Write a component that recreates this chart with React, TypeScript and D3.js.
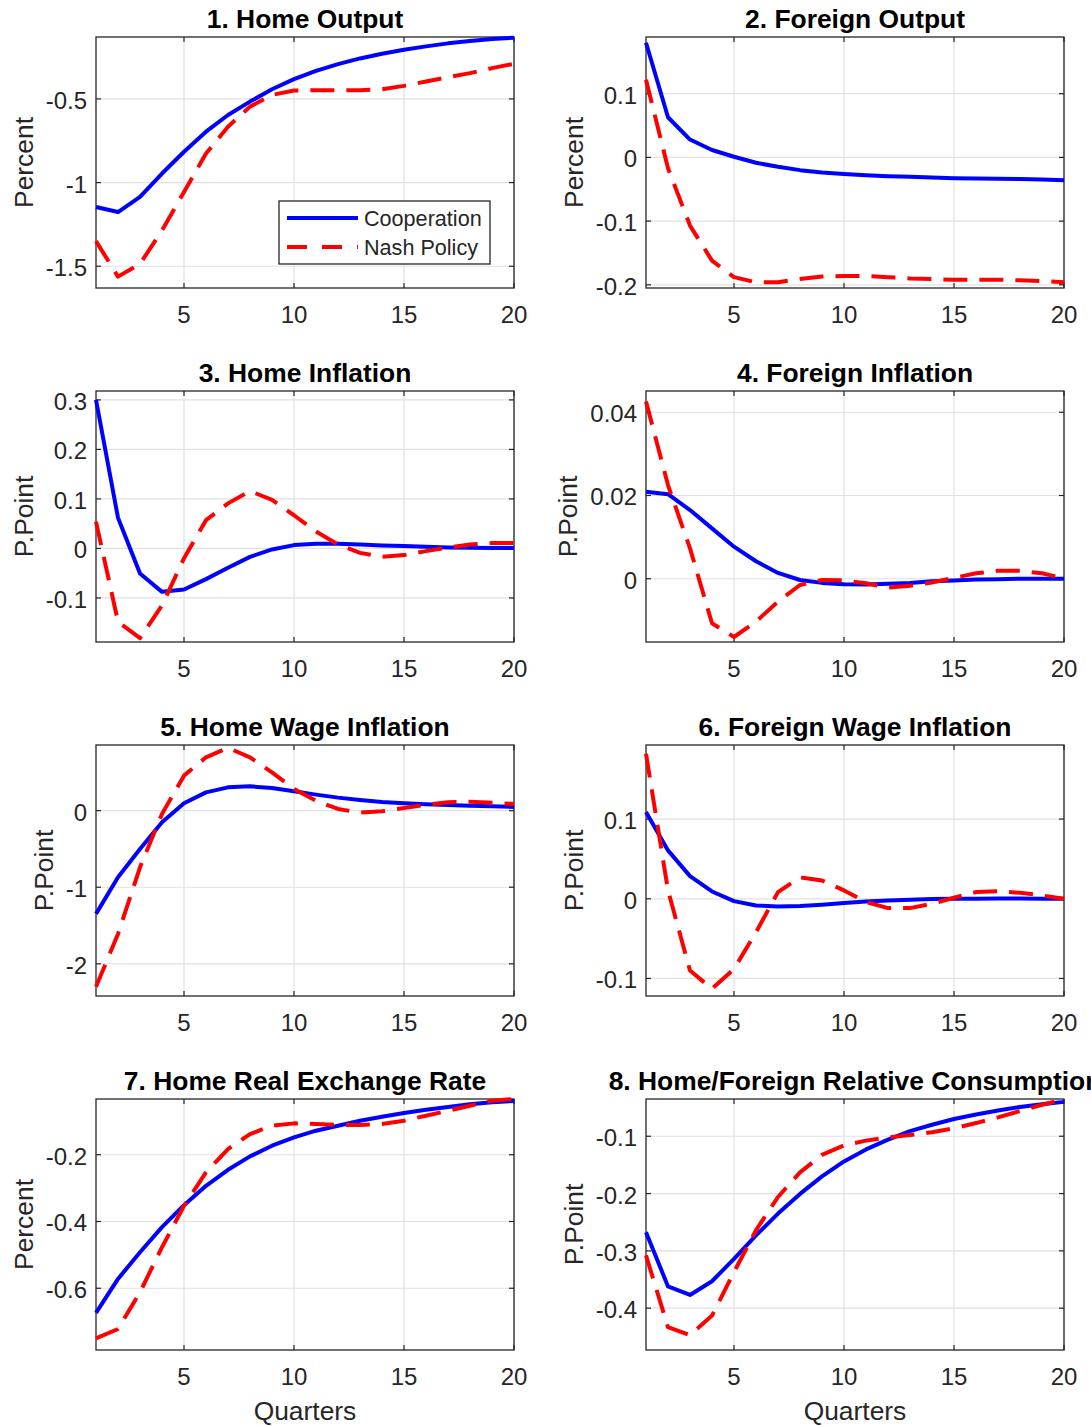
import React, { useEffect, useRef } from "react";
import * as d3 from "d3";

const quarters = [1, 2, 3, 4, 5, 6, 7, 8, 9, 10, 11, 12, 13, 14, 15, 16, 17, 18, 19, 20];
const xTicks = [5, 10, 15, 20];
const seriesNames = ["Cooperation", "Nash Policy"];

const titles = [
  "1. Home Output",
  "2. Foreign Output",
  "3. Home Inflation",
  "4. Foreign Inflation",
  "5. Home Wage Inflation",
  "6. Foreign Wage Inflation",
  "7. Home Real Exchange Rate",
  "8. Home/Foreign Relative Consumption",
];
const yLabels = ["Percent", "Percent", "P.Point", "P.Point", "P.Point", "P.Point", "Percent", "P.Point"];
const xLabel = "Quarters";

const homeOutputCoop = [-1.146, -1.176, -1.086, -0.946, -0.816, -0.696, -0.596, -0.516, -0.442, -0.382, -0.332, -0.292, -0.258, -0.23, -0.206, -0.186, -0.168, -0.154, -0.142, -0.134];
const homeOutputNash = [-1.35, -1.562, -1.486, -1.286, -1.056, -0.826, -0.666, -0.546, -0.476, -0.45, -0.448, -0.448, -0.448, -0.442, -0.422, -0.396, -0.37, -0.346, -0.316, -0.29];

const foreignOutputCoop = [0.18, 0.063, 0.028, 0.0116, 0.001, -0.0084, -0.0147, -0.02, -0.0237, -0.026, -0.028, -0.0295, -0.0305, -0.0316, -0.0326, -0.033, -0.0337, -0.034, -0.0347, -0.0358];
const foreignOutputNash = [0.122, -0.017, -0.107, -0.162, -0.188, -0.196, -0.196, -0.191, -0.187, -0.186, -0.186, -0.188, -0.19, -0.191, -0.192, -0.192, -0.192, -0.193, -0.194, -0.196];

const homeInflCoop = [0.3, 0.062, -0.0506, -0.0877, -0.083, -0.062, -0.039, -0.017, -0.002, 0.0067, 0.0094, 0.0094, 0.008, 0.006, 0.0047, 0.0034, 0.002, 0.0013, 0.0007, 0.0007];
const homeInflNash = [0.054, -0.148, -0.181, -0.115, -0.02, 0.057, 0.091, 0.116, 0.098, 0.067, 0.034, 0.008, -0.009, -0.017, -0.0135, -0.0054, 0.002, 0.008, 0.011, 0.011];

const foreignInflCoop = [0.0209, 0.0203, 0.0165, 0.0121, 0.0077, 0.0042, 0.0014, -0.0003, -0.001, -0.0013, -0.0014, -0.0012, -0.001, -0.0006, -0.0004, -0.0002, -0.0001, 0, 0, 0];
const foreignInflNash = [0.0426, 0.0225, 0.0073, -0.0107, -0.014, -0.0103, -0.0055, -0.0015, -0.0003, -0.0004, -0.0011, -0.0021, -0.0017, -0.0009, 0.0002, 0.0013, 0.0019, 0.0019, 0.0013, 0.0001];

const homeWageCoop = [-1.348, -0.87, -0.5, -0.152, 0.096, 0.239, 0.304, 0.317, 0.296, 0.252, 0.209, 0.17, 0.139, 0.113, 0.096, 0.083, 0.074, 0.065, 0.057, 0.048];
const homeWageNash = [-2.3, -1.61, -0.74, -0.043, 0.457, 0.696, 0.82, 0.696, 0.5, 0.283, 0.13, 0.022, -0.026, -0.009, 0.035, 0.078, 0.109, 0.117, 0.104, 0.087];

const foreignWageCoop = [0.109, 0.0607, 0.0285, 0.0092, -0.0029, -0.0084, -0.0096, -0.0092, -0.0075, -0.0054, -0.0033, -0.0021, -0.0013, -0.0004, 0, 0.0002, 0.0003, 0.0003, 0.0002, 0];
const foreignWageNash = [0.182, 0.0105, -0.09, -0.113, -0.088, -0.042, 0.0084, 0.027, 0.023, 0.0105, -0.004, -0.0117, -0.0117, -0.0063, 0.0013, 0.0084, 0.0096, 0.0075, 0.0042, 0];

const rerCoop = [-0.674, -0.572, -0.492, -0.417, -0.351, -0.293, -0.245, -0.205, -0.173, -0.148, -0.128, -0.113, -0.098, -0.086, -0.075, -0.065, -0.057, -0.049, -0.043, -0.039];
const rerNash = [-0.75, -0.722, -0.612, -0.477, -0.353, -0.253, -0.183, -0.138, -0.113, -0.106, -0.108, -0.111, -0.111, -0.108, -0.098, -0.083, -0.068, -0.053, -0.038, -0.033];

const relConsCoop = [-0.2674, -0.362, -0.377, -0.353, -0.314, -0.273, -0.235, -0.2006, -0.17, -0.144, -0.123, -0.106, -0.091, -0.08, -0.07, -0.062, -0.055, -0.049, -0.044, -0.04];
const relConsNash = [-0.308, -0.433, -0.447, -0.413, -0.337, -0.264, -0.206, -0.163, -0.1326, -0.116, -0.1076, -0.102, -0.098, -0.093, -0.086, -0.077, -0.067, -0.056, -0.045, -0.036];

const coopSeries = [homeOutputCoop, foreignOutputCoop, homeInflCoop, foreignInflCoop, homeWageCoop, foreignWageCoop, rerCoop, relConsCoop];
const nashSeries = [homeOutputNash, foreignOutputNash, homeInflNash, foreignInflNash, homeWageNash, foreignWageNash, rerNash, relConsNash];

const yDomains = [
  [-1.63, -0.13],
  [-0.205, 0.189],
  [-0.189, 0.318],
  [-0.0152, 0.0451],
  [-2.42, 0.857],
  [-0.122, 0.193],
  [-0.785, -0.033],
  [-0.473, -0.035],
];
const yTicks = [
  [-1.5, -1, -0.5],
  [-0.2, -0.1, 0, 0.1],
  [-0.1, 0, 0.1, 0.2, 0.3],
  [0, 0.02, 0.04],
  [-2, -1, 0],
  [-0.1, 0, 0.1],
  [-0.6, -0.4, -0.2],
  [-0.4, -0.3, -0.2, -0.1],
];

const FIG_W = 1091;
const FIG_H = 1426;
const colLeft = [96, 646];
const rowTop = [37, 391, 745, 1099];
const AX_W = 418;
const AX_H = 251;
const FONT = "'Liberation Sans', Arial, Helvetica, sans-serif";
const AXIS_COLOR = "#262626";
const GRID_COLOR = "#e1e1e1";
const COOP_COLOR = "#0000ff";
const NASH_COLOR = "#ff0000";
const DASH = "24,12";

export default function App() {
  const ref = useRef<SVGSVGElement | null>(null);

  useEffect(() => {
    const svg = d3.select(ref.current);
    svg.selectAll("*").remove();
    svg.append("rect").attr("width", FIG_W).attr("height", FIG_H).attr("fill", "#ffffff");

    titles.forEach((title, i) => {
      const col = i % 2;
      const row = Math.floor(i / 2);
      const left = colLeft[col];
      const top = rowTop[row];
      const x = d3.scaleLinear().domain([quarters[0], quarters[quarters.length - 1]]).range([left, left + AX_W]);
      const y = d3.scaleLinear().domain(yDomains[i]).range([top + AX_H, top]);
      const g = svg.append("g");

      // grid
      xTicks.forEach((t) => {
        g.append("line")
          .attr("x1", x(t)).attr("x2", x(t))
          .attr("y1", top).attr("y2", top + AX_H)
          .attr("stroke", GRID_COLOR).attr("stroke-width", 1.2);
      });
      yTicks[i].forEach((t) => {
        g.append("line")
          .attr("x1", left).attr("x2", left + AX_W)
          .attr("y1", y(t)).attr("y2", y(t))
          .attr("stroke", GRID_COLOR).attr("stroke-width", 1.2);
      });

      // box
      g.append("rect")
        .attr("x", left).attr("y", top)
        .attr("width", AX_W).attr("height", AX_H)
        .attr("fill", "none").attr("stroke", AXIS_COLOR).attr("stroke-width", 1.3);

      // tick marks (inward, both sides)
      const tl = 5;
      xTicks.forEach((t) => {
        g.append("line").attr("x1", x(t)).attr("x2", x(t)).attr("y1", top + AX_H).attr("y2", top + AX_H - tl)
          .attr("stroke", AXIS_COLOR).attr("stroke-width", 1.2);
        g.append("line").attr("x1", x(t)).attr("x2", x(t)).attr("y1", top).attr("y2", top + tl)
          .attr("stroke", AXIS_COLOR).attr("stroke-width", 1.2);
      });
      yTicks[i].forEach((t) => {
        g.append("line").attr("x1", left).attr("x2", left + tl).attr("y1", y(t)).attr("y2", y(t))
          .attr("stroke", AXIS_COLOR).attr("stroke-width", 1.2);
        g.append("line").attr("x1", left + AX_W).attr("x2", left + AX_W - tl).attr("y1", y(t)).attr("y2", y(t))
          .attr("stroke", AXIS_COLOR).attr("stroke-width", 1.2);
      });

      // tick labels
      xTicks.forEach((t) => {
        g.append("text")
          .attr("x", x(t)).attr("y", top + AX_H + 35)
          .attr("text-anchor", "middle")
          .attr("font-family", FONT).attr("font-size", 24)
          .attr("fill", AXIS_COLOR)
          .text(String(t));
      });
      let maxW = 0;
      yTicks[i].forEach((t) => {
        const txt = g.append("text")
          .attr("x", left - 9).attr("y", y(t) + 10)
          .attr("text-anchor", "end")
          .attr("font-family", FONT).attr("font-size", 24)
          .attr("fill", AXIS_COLOR)
          .text(String(t));
        const node = txt.node() as SVGTextElement;
        const w = node.getComputedTextLength();
        if (w > maxW) maxW = w;
      });

      // data lines
      const line = d3.line<number>()
        .x((_, j) => x(quarters[j]))
        .y((d) => y(d));
      g.append("path")
        .datum(coopSeries[i])
        .attr("d", line)
        .attr("fill", "none")
        .attr("stroke", COOP_COLOR)
        .attr("stroke-width", 4)
        .attr("stroke-linejoin", "round");
      g.append("path")
        .datum(nashSeries[i])
        .attr("d", line)
        .attr("fill", "none")
        .attr("stroke", NASH_COLOR)
        .attr("stroke-width", 4)
        .attr("stroke-dasharray", DASH)
        .attr("stroke-linejoin", "round");

      // y label
      const ylx = left - 9 - maxW - 13;
      const yly = top + AX_H / 2;
      g.append("text")
        .attr("transform", `translate(${ylx},${yly}) rotate(-90)`)
        .attr("text-anchor", "middle")
        .attr("font-family", FONT).attr("font-size", 26.4)
        .attr("fill", AXIS_COLOR)
        .text(yLabels[i]);

      // title
      g.append("text")
        .attr("x", left + AX_W / 2).attr("y", top - 9)
        .attr("text-anchor", "middle")
        .attr("font-family", FONT).attr("font-size", 26.4)
        .attr("font-weight", "bold")
        .attr("fill", "#000000")
        .text(title);

      if (row === rowTop.length - 1) {
        g.append("text")
          .attr("x", left + AX_W / 2).attr("y", top + AX_H + 70)
          .attr("text-anchor", "middle")
          .attr("font-family", FONT).attr("font-size", 26.4)
          .attr("fill", AXIS_COLOR)
          .text(xLabel);
      }
    });

    // legend in first panel
    const lg = svg.append("g");
    const lx = 279, ly = 201, lw = 211, lh = 63;
    lg.append("rect")
      .attr("x", lx).attr("y", ly).attr("width", lw).attr("height", lh)
      .attr("fill", "#ffffff").attr("stroke", AXIS_COLOR).attr("stroke-width", 1.3);
    const legendColors = [COOP_COLOR, NASH_COLOR];
    const legendDash = ["none", "20,15"];
    seriesNames.forEach((name, k) => {
      const cy = ly + 17 + k * 29;
      lg.append("line")
        .attr("x1", lx + 8).attr("x2", lx + 79)
        .attr("y1", cy).attr("y2", cy)
        .attr("stroke", legendColors[k]).attr("stroke-width", 4)
        .attr("stroke-dasharray", legendDash[k]);
      lg.append("text")
        .attr("x", lx + 85).attr("y", cy + 7.7)
        .attr("font-family", FONT).attr("font-size", 21.6)
        .attr("fill", AXIS_COLOR)
        .text(name);
    });
  }, []);

  return (
    <svg
      ref={ref}
      width={FIG_W}
      height={FIG_H}
      style={{ position: "absolute", left: 0, top: 0, display: "block" }}
    />
  );
}
